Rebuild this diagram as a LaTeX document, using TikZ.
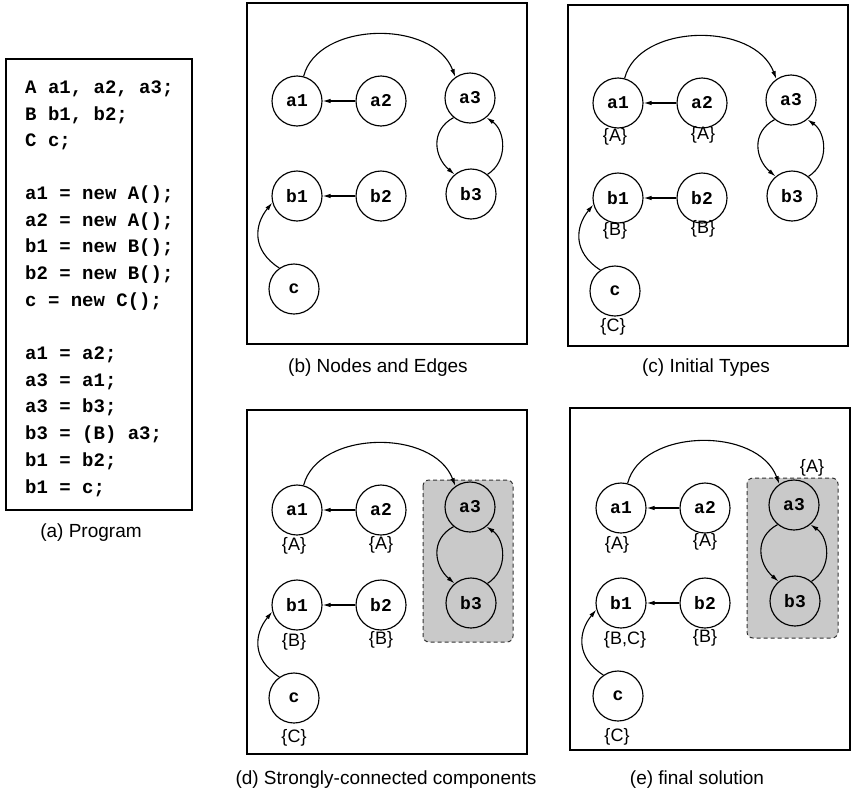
\documentclass[tikz,border=0pt]{standalone}
\usepackage{fontspec}
\setmainfont{Liberation Sans}
\newfontfamily\codefont{Liberation Mono}
\usetikzlibrary{arrows.meta,calc}

\tikzset{
  vnode/.style={circle, draw, line width=1.15pt, minimum size=50pt, inner sep=0pt,
    font=\codefont\bfseries\fontsize{18}{18}\selectfont},
  arr/.style={line width=1.1pt, -{Latex[length=8pt,width=4.5pt]}},
  tlabel/.style={font=\fontsize{18}{18}\selectfont, inner sep=0pt},
  captext/.style={font=\fontsize{19}{19}\selectfont, inner sep=0pt},
  panelbox/.style={draw, line width=1.3pt},
  sccbox/.style={draw=black!80, fill=gray!42, rounded corners=6pt, line width=1pt,
    dash pattern=on 4pt off 3pt},
  codeline/.style={anchor=west, inner sep=0pt, text height=13pt, text depth=4pt,
    font=\codefont\bfseries\fontsize{19}{19}\selectfont},
}

% #1 = name prefix
\newcommand\drawgraph[1]{%
  \node[vnode] (#1a1) at (297,101) {a1};
  \node[vnode] (#1a2) at (381,101) {a2};
  \node[vnode] (#1a3) at (470,98)  {a3};
  \node[vnode] (#1b1) at (297,196) {b1};
  \node[vnode] (#1b2) at (381,196) {b2};
  \node[vnode] (#1b3) at (471,194) {b3};
  \node[vnode] (#1c)  at (294,289) {c};
  \draw[arr] (#1a1.75) .. controls +(14,-55) and +(-22,-58) .. (#1a3.125);
  \draw[arr] (#1a2) -- (#1a1);
  \draw[arr] (#1b2) -- (#1b1);
  \draw[arr] (#1c.125) .. controls +(-28,-18) and +(-18,22) .. (#1b1.195);
  \draw[arr] (#1a3.230) .. controls +(-24,13) and +(-20,-17) .. (#1b3.130);
  \draw[arr] (#1b3.50) .. controls +(21,-13) and +(19,13) .. (#1a3.310);
}

\begin{document}
\begin{tikzpicture}[x=1pt, y=-1pt]
\useasboundingbox (0,0) rectangle (853,798);

% (a) Program
\draw[panelbox] (6,59) rectangle (192,510);
\node[codeline] (l1)  at (25,89)  {A a1, a2, a3;};
\node[codeline] (l2)  at (25,116) {B b1, b2;};
\node[codeline] (l3)  at (25,142) {C c;};
\node[codeline] (l4)  at (25,195) {a1 = new A();};
\node[codeline] (l5)  at (25,222) {a2 = new A();};
\node[codeline] (l6)  at (25,248) {b1 = new B();};
\node[codeline] (l7)  at (25,275) {b2 = new B();};
\node[codeline] (l8)  at (25,302) {c = new C();};
\node[codeline] (l9)  at (25,355) {a1 = a2;};
\node[codeline] (l10) at (25,382) {a3 = a1;};
\node[codeline] (l11) at (25,408) {a3 = b3;};
\node[codeline] (l12) at (25,435) {b3 = (B) a3;};
\node[codeline] (l13) at (25,462) {b1 = b2;};
\node[codeline] (l14) at (25,489) {b1 = c;};
\node[captext] (capa) at (91,533) {(a) Program};

% (b) Nodes and Edges
\draw[panelbox] (247,3) rectangle (527,344);
\drawgraph{b}
\node[captext] (capb) at (378,368) {(b) Nodes and Edges};

% (c) Initial Types
\begin{scope}[shift={(321,2)}]
  \draw[panelbox] (247,3) rectangle (527,344);
  \drawgraph{c}
  \node[tlabel] (cla1) at (294,135) {\{A\}};
  \node[tlabel] (cla2) at (382,133) {\{A\}};
  \node[tlabel] (clb1) at (294,229) {\{B\}};
  \node[tlabel] (clb2) at (382,227) {\{B\}};
  \node[tlabel] (clc)  at (292,325) {\{C\}};
\end{scope}
\node[captext] (capc) at (706,368) {(c) Initial Types};

% (d) Strongly-connected components
\begin{scope}[shift={(0,409)}]
  \draw[panelbox] (247,1) rectangle (527,345);
  \draw[sccbox] (423,71) rectangle (513,233);
  \drawgraph{d}
  \node[tlabel] (dla1) at (294,137) {\{A\}};
  \node[tlabel] (dla2) at (381,136) {\{A\}};
  \node[tlabel] (dlb1) at (294,233) {\{B\}};
  \node[tlabel] (dlb2) at (381,231) {\{B\}};
  \node[tlabel] (dlc)  at (294,329) {\{C\}};
\end{scope}
\node[captext] (capd) at (386,780) {(d) Strongly-connected components};

% (e) final solution
\begin{scope}[shift={(324,407)}]
  \draw[panelbox] (246,1) rectangle (526,343);
  \draw[sccbox] (423,71) rectangle (514,231);
  \drawgraph{e}
  \node[tlabel] (ela1) at (293,138) {\{A\}};
  \node[tlabel] (ela2) at (381,135) {\{A\}};
  \node[tlabel] (elb1) at (301,233) {\{B,C\}};
  \node[tlabel] (elb2) at (381,231) {\{B\}};
  \node[tlabel] (elc)  at (293,330) {\{C\}};
  \node[tlabel] (ela3) at (488,61)  {\{A\}};
\end{scope}
\node[captext] (cape) at (697,780) {(e) final solution};
\end{tikzpicture}
\end{document}
